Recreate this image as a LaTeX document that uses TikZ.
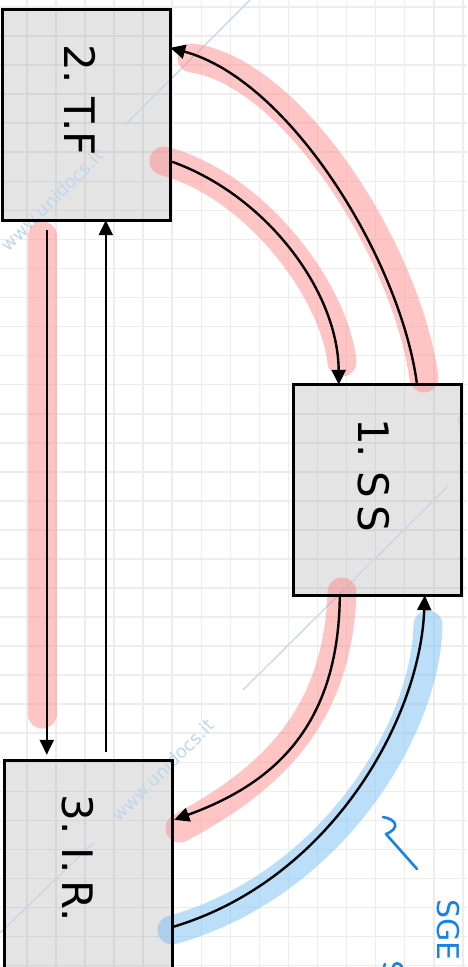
\documentclass[tikz,border=0pt]{standalone}
\usepackage{fontspec}
\setmainfont{DejaVu Sans}
\usetikzlibrary{arrows.meta,calc}
\definecolor{boxgray}{HTML}{E4E4E4}
\definecolor{gridout}{HTML}{EDEDED}
\definecolor{gridin}{HTML}{D6D6D6}
\definecolor{pinkhl}{RGB}{255,140,140}
\definecolor{bluehl}{RGB}{120,190,245}
\definecolor{markblue}{RGB}{25,130,230}
\definecolor{wmblue}{RGB}{190,215,238}
\newcommand\mygrid[1]{%
  \foreach \k in {-1,...,16} {\draw[line width=1.6pt,#1] ({27+29.05*\k},0) -- ({27+29.05*\k},967);}
  \foreach \k in {-1,...,33} {\draw[line width=1.6pt,#1] (0,{7+29.05*\k}) -- (467,{7+29.05*\k});}
}
\begin{document}
\begin{tikzpicture}[x=1pt,y=-1pt,
  boxstyle/.style={rectangle, fill=boxgray, minimum width=167pt, minimum height=210pt, inner sep=0pt},
  border/.style={line width=3pt, black},
  lbl/.style={inner sep=0pt, font=\fontsize{42}{46}\selectfont},
  conn/.style={line width=2.4pt, black, -{Triangle[length=15pt,width=14pt]}},
  pinkstroke/.style={line width=29pt, line cap=round, pinkhl, opacity=0.5},
  bluestroke/.style={line width=29pt, line cap=round, bluehl, opacity=0.5},
  wm/.style={wmblue, inner sep=0pt, font=\fontsize{18}{20}\selectfont},
  wmline/.style={wmblue, line width=1.2pt},
  markstroke/.style={markblue, line width=2.6pt, line cap=round, line join=round}]
\useasboundingbox (0,0) rectangle (467,967);
\clip (0,0) rectangle (467,967);
\fill[white] (0,0) rectangle (467,967);
\mygrid{gridout}
% boxes (fill)
\node[boxstyle] (tf) at (86.5,115) {};
\node[boxstyle] (ss) at (377.5,490) {};
\node[boxstyle] (ir) at (88.5,866) {};
\begin{scope}
  \clip (tf.north west) rectangle (tf.south east);
  \mygrid{gridin}
\end{scope}
\begin{scope}
  \clip (ss.north west) rectangle (ss.south east);
  \mygrid{gridin}
\end{scope}
\begin{scope}
  \clip (ir.north west) rectangle (ir.south east);
  \mygrid{gridin}
\end{scope}
% watermark
\node[wm, rotate=45] (wm1) at (52,200) {www.unidocs.it};
\node[wm, rotate=45] (wm2) at (163,770) {www.unidocs.it};
\draw[wmline] (125,125) -- (250,0);
\draw[wmline] (243,690) -- (447,487);
\draw[wmline] (0,933) -- (93,843);
\draw[wmline] (463,428) arc[start angle=120, end angle=220, radius=9];
% highlights
\draw[pinkstroke] (164,161) .. controls (255,185) and (334,290) .. (342,362);
\draw[pinkstroke] (424,378) .. controls (406,250) and (292,72) .. (192,58);
\draw[pinkstroke] (42,236) -- (42,714);
\draw[pinkstroke] (342,592) .. controls (338,722) and (265,782) .. (180,828);
\draw[bluestroke] (172,930) .. controls (330,886) and (426,730) .. (428,625);
% connectors
\draw[conn] ($(tf.north east)+(2,152)$) .. controls (265,195) and (338,290) .. ($(ss.north west)+(45,0)$);
\draw[conn] ($(ss.north west)+(123,-2)$) .. controls (400,260) and (290,80) .. ($(tf.north east)+(0,38)$);
\draw[conn] ($(tf.south west)+(44,10)$) -- ($(ir.north west)+(42,-6)$);
\draw[conn] ($(ir.north west)+(101,-9)$) -- ($(tf.south west)+(103,0)$);
\draw[conn] ($(ss.south west)+(46,2)$) .. controls (338,730) and (270,785) .. ($(ir.north east)+(2,59)$);
\draw[conn] ($(ir.north east)+(1,166)$) .. controls (330,880) and (420,720) .. ($(ss.south west)+(131,0)$);
% box borders
\draw[border] (tf.north west) rectangle (tf.south east);
\draw[border] (ss.north west) rectangle (ss.south east);
\draw[border] (ir.north west) rectangle (ir.south east);
% labels
\node[lbl, rotate=-90] (tft) at (80,100) {2.\ T.F};
\node[lbl, rotate=-90] (sst) at (374,475) {1.\ S\,S};
\node[lbl, rotate=-90] (irt) at (78,858) {3.\ I.\,R.};
% blue marks
\draw[markstroke] (383,817) .. controls (396,819) and (401,828) .. (386,834) -- (417,869);
\node[markblue, rotate=-90, anchor=west, inner sep=0pt, font=\fontsize{30}{32}\selectfont] (sge) at (448,899) {SGE};
\draw[markstroke] (384,967) -- (385,964);
\draw[markstroke] (393,967) .. controls (394,962) and (400,962) .. (402,967);
\end{tikzpicture}
\end{document}
